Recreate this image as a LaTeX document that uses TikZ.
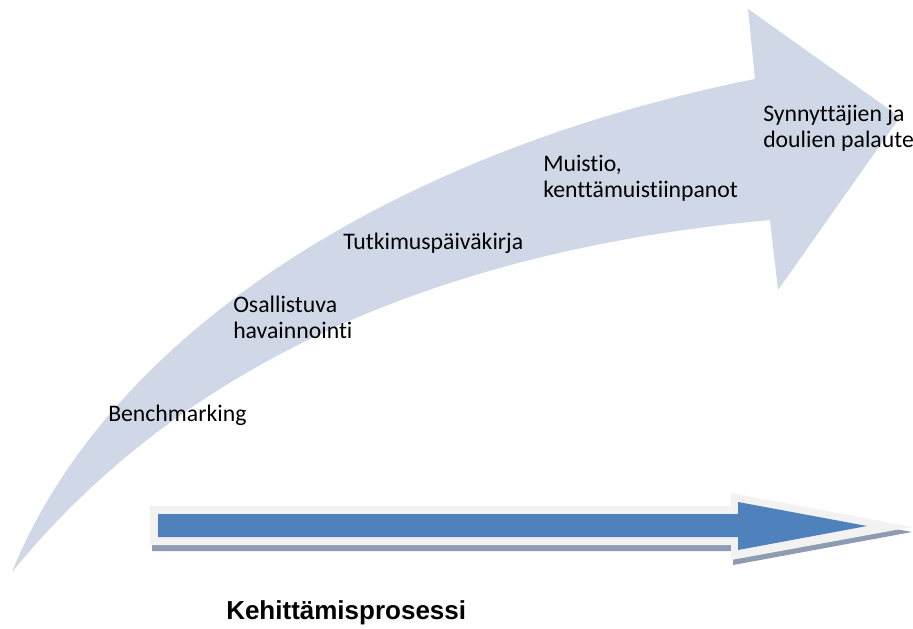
\documentclass[tikz,border=0pt]{standalone}
\usepackage{fontspec}
\newfontfamily\calib{Carlito}[Ligatures={NoCommon}]
\newfontfamily\arialfont{Liberation Sans}
\definecolor{bandcol}{HTML}{D0D8E8}
\definecolor{arrowblue}{HTML}{4F81BD}
\definecolor{rimgray}{HTML}{F2F2F2}
\definecolor{shadowcol}{HTML}{8E9BB0}
\tikzset{
  steplabel/.style={anchor=base west, inner sep=0pt, align=left,
    font=\calib\fontsize{17.8pt}{19pt}\selectfont, text=black},
  titlelabel/.style={anchor=base west, inner sep=0pt,
    font=\arialfont\bfseries\fontsize{19.5pt}{22pt}\selectfont, text=black}
}
\begin{document}
\begin{tikzpicture}[x=0.75pt,y=-0.75pt]
\useasboundingbox[fill=white] (0,0) rectangle (913,628);
% curved band arrow
\fill[bandcol] (12,572) .. controls (110,330) and (400,150) .. (755,79)
  -- (748,9) -- (900,117) -- (778,290) -- (770,220)
  .. controls (330,260) and (120,440) .. (12,572) -- cycle;
% straight arrow: shadow, rim, body
\fill[shadowcol] (152,511) -- (732,511) -- (732,498) -- (912,532) -- (733,565) -- (733,551) -- (152,551) -- cycle;
\fill[rimgray] (150,506) -- (731,506) -- (731,493) -- (912,527) -- (731,560) -- (731,545) -- (150,545) -- cycle;
\fill[arrowblue] (158,514) -- (738,514) -- (738,502) -- (867,526) -- (738,550) -- (738,537) -- (158,537) -- cycle;
% labels (multi-line nodes are anchored at the baseline of their last line)
\node[steplabel] (bench) at (108,421) {Benchmarking};
\node[steplabel] (osal) at (233,338) {Osallistuva\\havainnointi};
\node[steplabel] (tutk) at (343,249) {Tutkimuspäiväkirja};
\node[steplabel] (muis) at (543,197) {Muistio,\\kenttämuistiinpanot};
\node[steplabel] (synn) at (763,147) {Synnyttäjien ja\\doulien palaute};
\node[titlelabel] (kehi) at (226,619) {Kehittämisprosessi};
\end{tikzpicture}
\end{document}
